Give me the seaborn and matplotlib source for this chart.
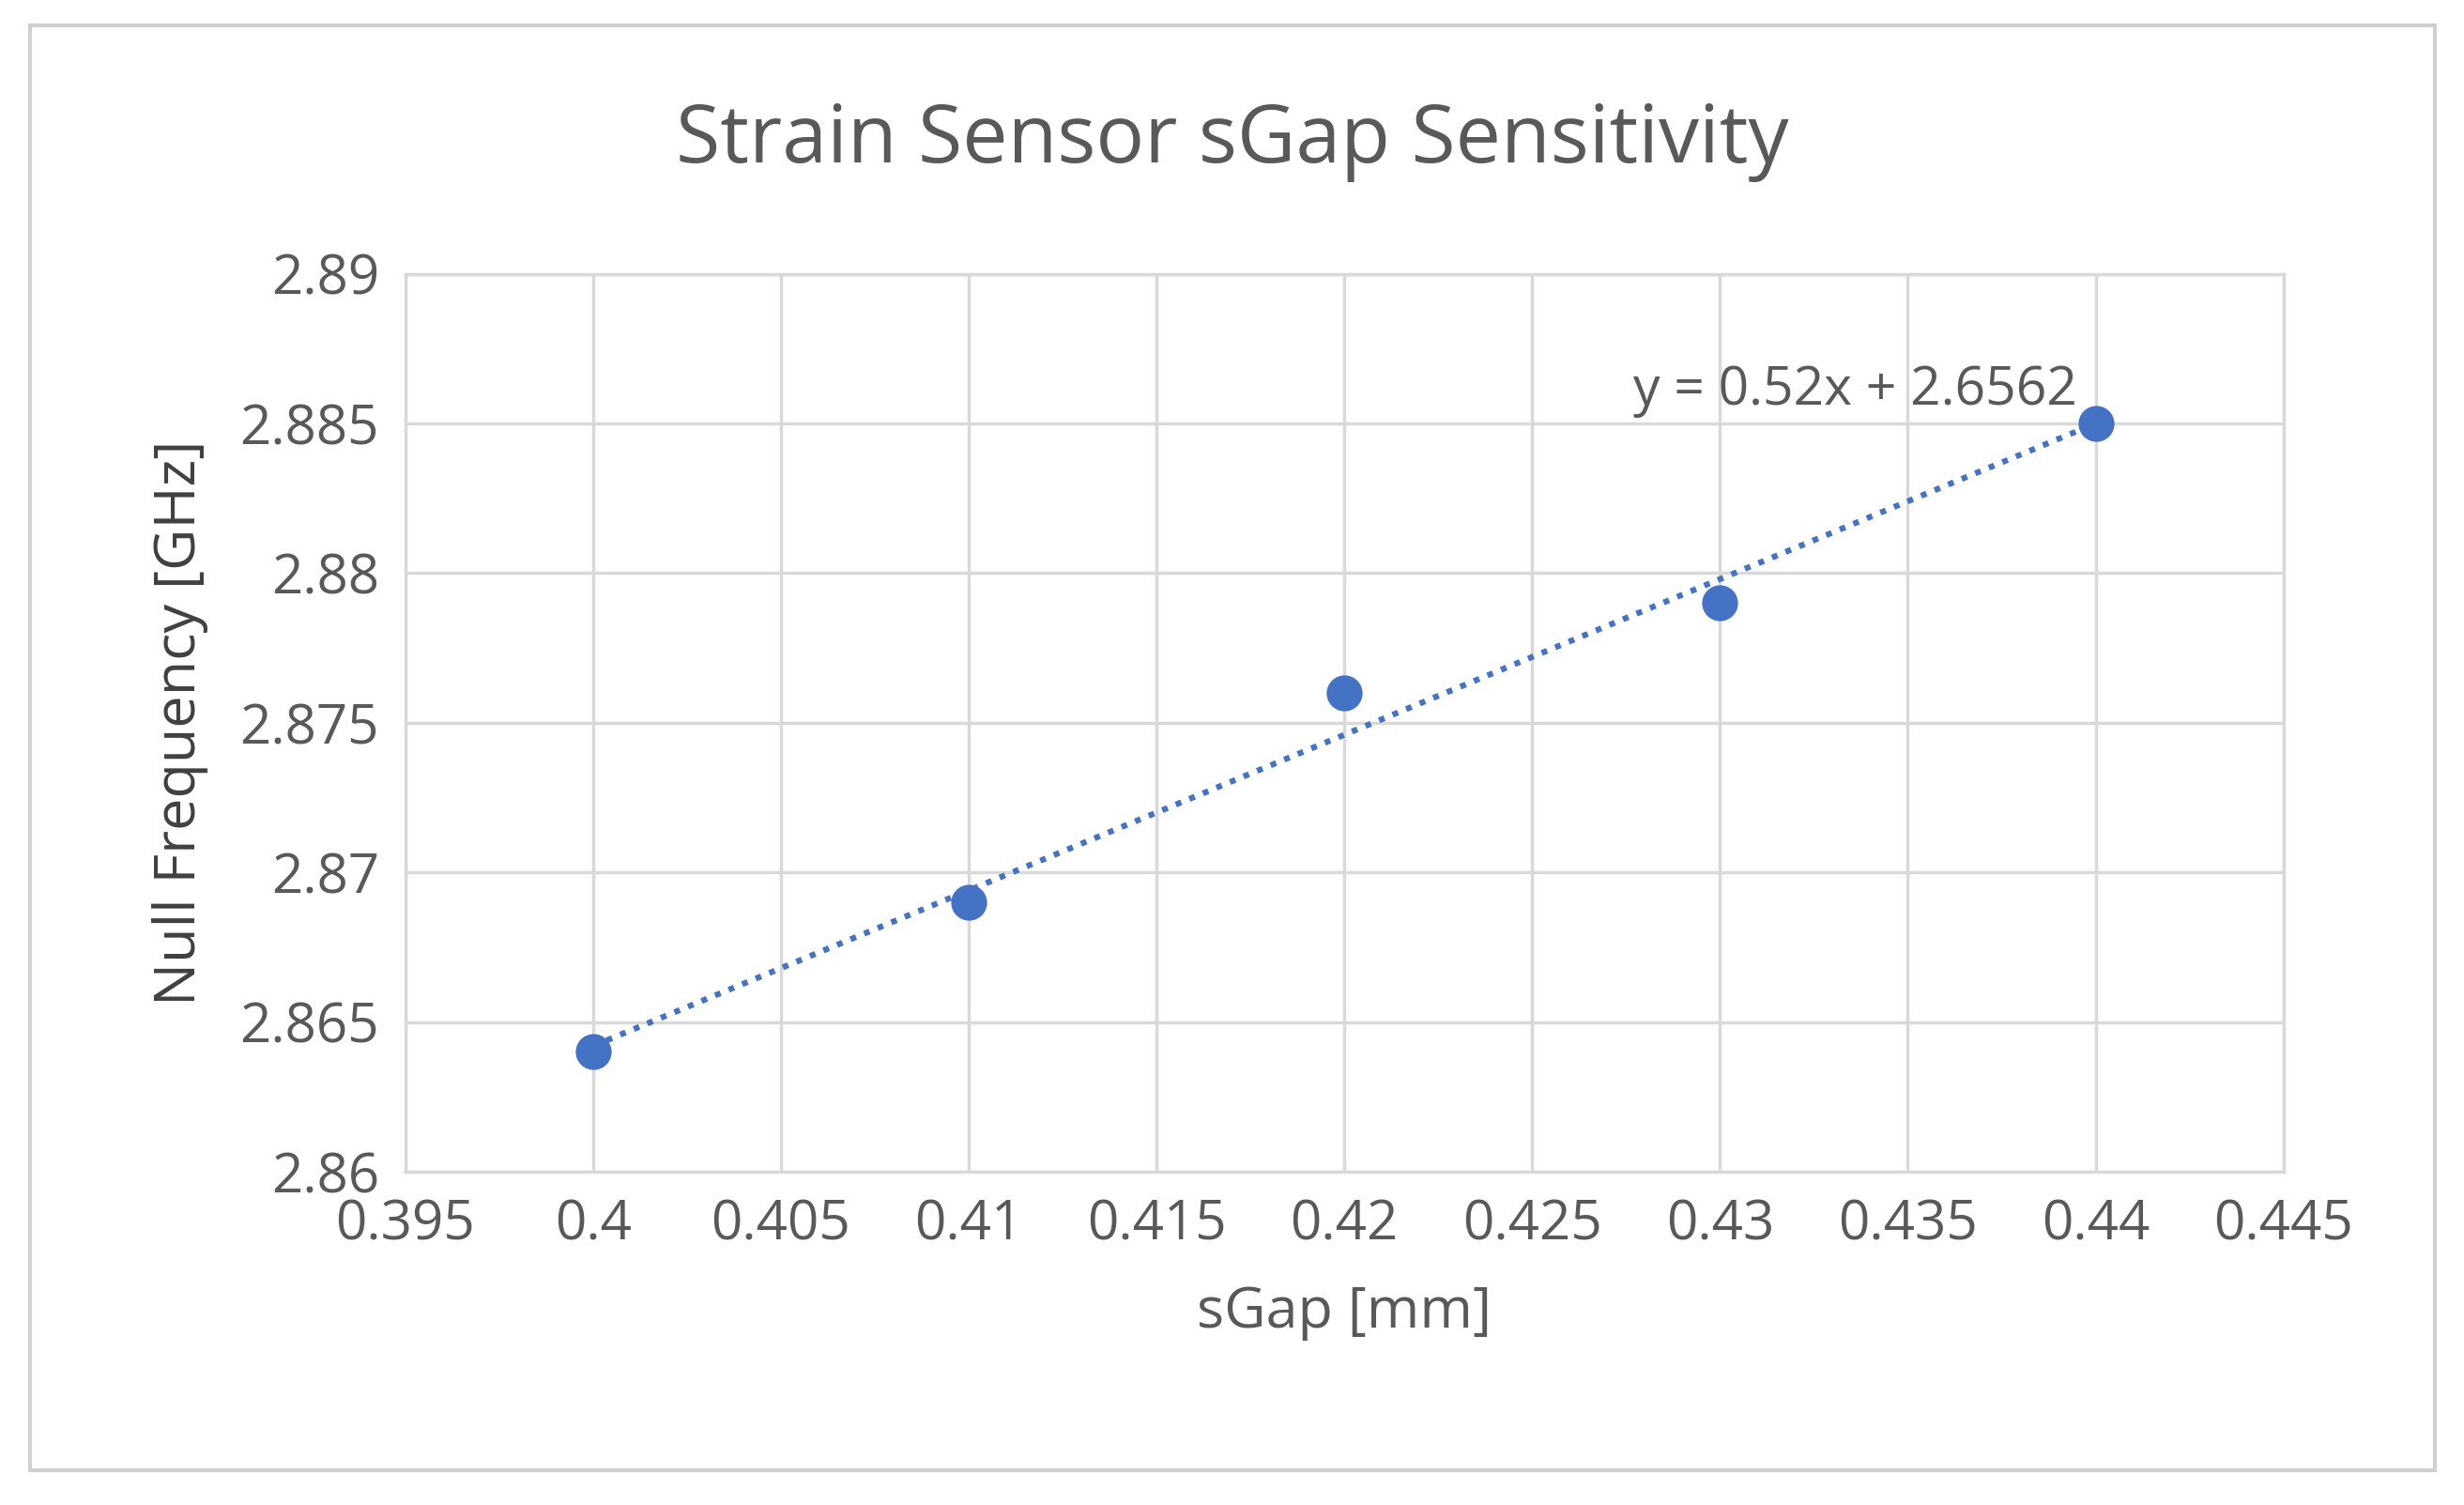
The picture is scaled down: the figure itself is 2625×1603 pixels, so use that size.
import matplotlib
matplotlib.use("Agg")
import matplotlib.pyplot as plt
import seaborn as sns
import numpy as np
import pandas as pd
from matplotlib.patches import Rectangle

sgap = [0.40, 0.41, 0.42, 0.43, 0.44]
freq = [2.864, 2.869, 2.876, 2.879, 2.885]
slope, intercept = 0.52, 2.6562
xticks = [0.395, 0.4, 0.405, 0.41, 0.415, 0.42, 0.425, 0.43, 0.435, 0.44, 0.445]
yticks = [2.86, 2.865, 2.87, 2.875, 2.88, 2.885, 2.89]

sns.set_theme(style="whitegrid")
plt.rcParams['font.family'] = ['Open Sans', 'DejaVu Sans']
fig = plt.figure(figsize=(26.25, 16.03), dpi=100)
fig.patches.append(Rectangle((0.012, 0.023), 0.976, 0.96, transform=fig.transFigure,
                             fill=False, edgecolor='#d0d0d0', linewidth=3))
ax = fig.add_axes([0.1645, 0.2215, 0.7622, 0.5965])
df = pd.DataFrame({"sGap": sgap, "freq": freq})
color = '#4472C4'
xs = np.array([sgap[0], sgap[-1]])
ax.plot(xs, slope * xs + intercept, linestyle=(0, (1, 1.5)), color=color, linewidth=4.5, zorder=2)
sns.scatterplot(data=df, x="sGap", y="freq", ax=ax, s=650, color=color, edgecolor=color, zorder=3)
ax.set_xlim(0.395, 0.445)
ax.set_ylim(2.86, 2.89)
ax.set_xticks(xticks)
ax.set_xticklabels([f"{t:g}" for t in xticks])
ax.set_yticks(yticks)
ax.set_yticklabels([f"{t:g}" for t in yticks])
ax.grid(True, color='#d9d9d9', linewidth=2.5)
for s in ['left', 'bottom', 'right', 'top']:
    ax.spines[s].set_visible(True)
    ax.spines[s].set_color('#d9d9d9'); ax.spines[s].set_linewidth(2.5)
ax.tick_params(labelsize=42, labelcolor='#595959', length=0, pad=20)
ax.set_xlabel("sGap [mm]", fontsize=44, color='#595959', labelpad=24)
ax.set_ylabel("Null Frequency [GHz]", fontsize=44, color='#404040', labelpad=24)
fig.text(0.5, 0.906, "Strain Sensor sGap Sensitivity", ha='center', va='center', fontsize=62, color='#595959')
ax.text(0.4395, 2.8852, "y = 0.52x + 2.6562", fontsize=41, color='#595959', ha='right', va='bottom')
fig.savefig("out.png", dpi=100, facecolor='white')
